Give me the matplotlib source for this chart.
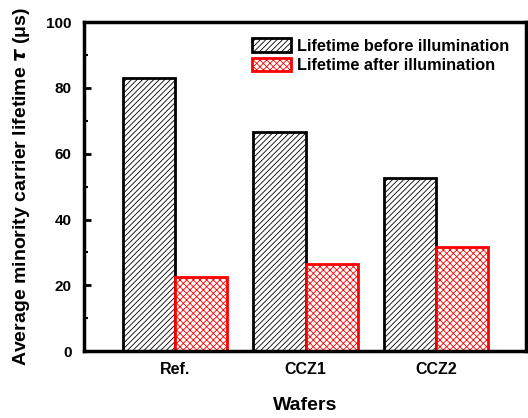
import matplotlib.pyplot as plt
import numpy as np

plt.rcParams['font.family'] = ['Liberation Sans', 'DejaVu Sans']
plt.rcParams['font.weight'] = 'bold'
plt.rcParams['hatch.linewidth'] = 0.6

# data
wafers = ['Ref.', 'CCZ1', 'CCZ2']
before = [83.0, 66.5, 52.6]
after = [22.5, 26.4, 31.6]

x = np.arange(len(wafers))
w = 0.4

fig = plt.figure(figsize=(5.28, 4.18), dpi=100)
ax = fig.add_axes([0.159, 0.160, 0.837, 0.787])

ax.bar(x - w/2, before, w, color='white', edgecolor='black', hatch='//////',
       linewidth=2, label='Lifetime before illumination')
ax.bar(x + w/2, after, w, color='white', edgecolor='red', hatch='xxxxx',
       linewidth=2, label='Lifetime after illumination')

ax.set_xlim(-0.70, 2.69)
ax.set_ylim(0, 100)
ax.set_yticks([0, 20, 40, 60, 80, 100])
ax.set_yticks([10, 30, 50, 70, 90], minor=True)
ax.set_xticks(x)
ax.set_xticklabels(wafers, fontsize=11.5, fontweight='bold')
ax.tick_params(axis='y', which='major', direction='in', length=5, width=2,
               labelsize=11, pad=9)
ax.tick_params(axis='y', which='minor', direction='in', length=3, width=1.5)
ax.tick_params(axis='x', length=0, pad=8)
for s in ax.spines.values():
    s.set_linewidth(2.5)

ax.set_xlabel('Wafers', fontsize=14, fontweight='bold', labelpad=14)
ax.set_ylabel(r'Average minority carrier lifetime $\tau$ (μs)', fontsize=14,
              fontweight='bold', labelpad=10)

ax.legend(loc='upper right', frameon=False, fontsize=11.7, handlelength=2.4,
          handleheight=0.9, borderaxespad=0.6, labelspacing=0.25, handletextpad=0.4)

fig.savefig('out.png', dpi=100)
